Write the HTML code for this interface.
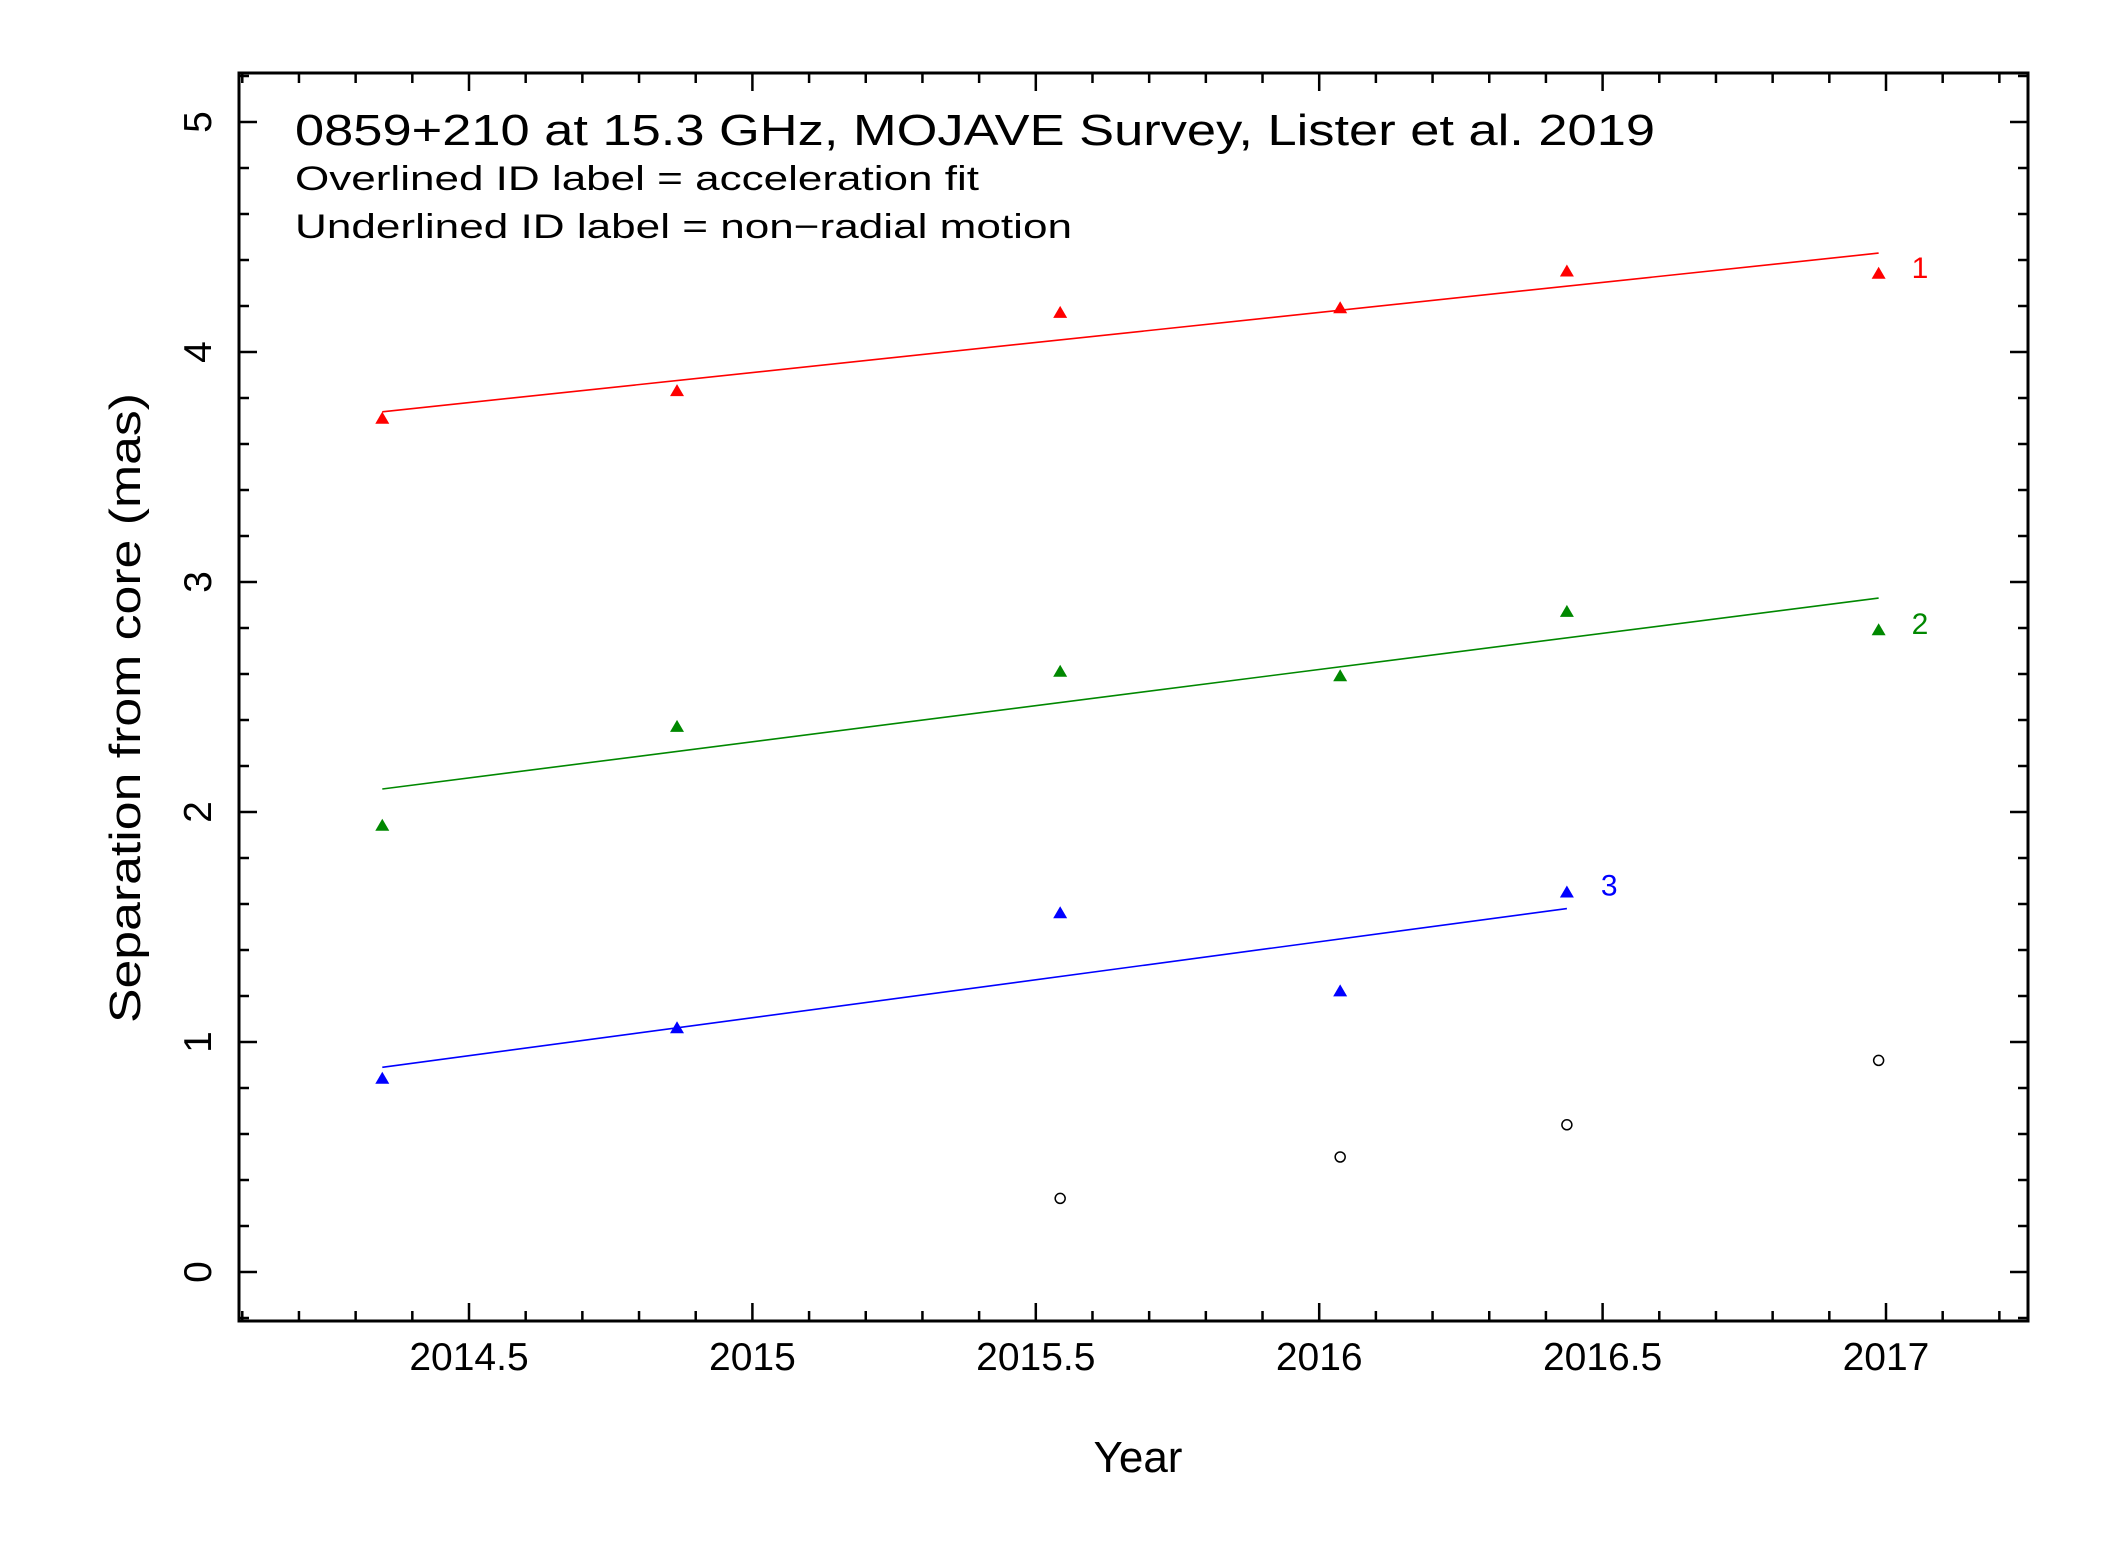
<!DOCTYPE html>
<html><head><meta charset="utf-8"><style>
html,body{margin:0;padding:0;background:#fff}
svg{display:block;font-family:"Liberation Sans",sans-serif}
</style></head><body>
<svg id="chart" width="2127" height="1546" viewBox="0 0 2127 1546" xmlns="http://www.w3.org/2000/svg">
<rect width="2127" height="1546" fill="#fff"/>
<g id="ticks"></g>
<g id="marks"></g>
<rect x="239" y="73" width="1789" height="1248" fill="none" stroke="#000" stroke-width="3"/>
<text x="295" y="145" font-size="44" textLength="1360" lengthAdjust="spacingAndGlyphs">0859+210 at 15.3 GHz, MOJAVE Survey, Lister et al. 2019</text>
<text x="295" y="190" font-size="34" textLength="684" lengthAdjust="spacingAndGlyphs">Overlined ID label = acceleration fit</text>
<text x="295" y="238" font-size="34" textLength="777" lengthAdjust="spacingAndGlyphs">Underlined ID label = non−radial motion</text>
<text transform="translate(140,708) rotate(-90)" text-anchor="middle" font-size="44" textLength="630" lengthAdjust="spacingAndGlyphs">Separation from core (mas)</text>
<text x="1138" y="1472" text-anchor="middle" font-size="44">Year</text>
</svg>
<script>
const xTickVals=[2014.5,2015,2015.5,2016,2016.5,2017];
const xTickLabels=["2014.5","2015","2015.5","2016","2016.5","2017"];
const yTickVals=[0,1,2,3,4,5];
const yTickLabels=["0","1","2","3","4","5"];
const epochs=[2014.347,2014.867,2015.543,2016.037,2016.437,2016.987];
const comp1=[3.71,3.83,4.17,4.19,4.35,4.34];
const comp2=[1.94,2.37,2.61,2.59,2.87,2.79];
const comp3=[0.84,1.06,1.56,1.22,1.65];
const unidentifiedEpochs=[2015.543,2016.037,2016.437,2016.987];
const unidentified=[0.32,0.50,0.64,0.92];
const fit1=[[2014.347,3.74],[2016.987,4.43]];
const fit2=[[2014.347,2.10],[2016.987,2.93]];
const fit3=[[2014.347,0.89],[2016.437,1.58]];

const NS="http://www.w3.org/2000/svg";
const X0=239,X1=2028,Y0=73,Y1=1321;
const xmin=2014.5-230/566.8, xmax=2014.5+(2028-469)/566.8;
const ymin=-(1321-1272)/230, ymax=(1272-73)/230;
function sx(v){return X0+(v-xmin)/(xmax-xmin)*(X1-X0);}
function sy(v){return Y1-(v-ymin)/(ymax-ymin)*(Y1-Y0);}
function mk(tag,attrs,parent){const e=document.createElementNS(NS,tag);for(const k in attrs)e.setAttribute(k,attrs[k]);parent.appendChild(e);return e;}
const ticks=document.getElementById('ticks');
const marks=document.getElementById('marks');
const svg=document.getElementById('chart');

for(let i=Math.ceil(xmin*10);i<=Math.floor(xmax*10);i++){
  const v=i/10, x=sx(v), major=(i%5===0);
  const L=major?18:10;
  const t1=mk('line',{x1:x,y1:Y1,x2:x,y2:Y1-L,stroke:'#000','stroke-width':2.5},ticks);
  
  
  const t2=mk('line',{x1:x,y1:Y0,x2:x,y2:Y0+L,stroke:'#000','stroke-width':2.5},ticks);
  
  
}
xTickVals.forEach((v,i)=>{
  const t=mk('text',{x:sx(v),y:1370,'text-anchor':'middle','font-size':39},svg);
  t.textContent=xTickLabels[i];
  
  
});
for(let i=Math.ceil(ymin*5);i<=Math.floor(ymax*5);i++){
  const v=i/5, y=sy(v), major=(i%5===0);
  const L=major?18:10;
  const t1=mk('line',{x1:X0,y1:y,x2:X0+L,y2:y,stroke:'#000','stroke-width':2.5},ticks);
  
  
  const t2=mk('line',{x1:X1,y1:y,x2:X1-L,y2:y,stroke:'#000','stroke-width':2.5},ticks);
  
  
}
yTickVals.forEach((v,i)=>{
  const t=mk('text',{transform:`translate(211,${sy(v)}) rotate(-90)`,'text-anchor':'middle','font-size':39},svg);
  t.textContent=yTickLabels[i];
  
  
});

function fitLine(f,color,name){
  const l=mk('line',{x1:sx(f[0][0]),y1:sy(f[0][1]),x2:sx(f[1][0]),y2:sy(f[1][1]),stroke:color,'stroke-width':1.6},marks);
  
  
}
function tris(xs,ys,color,name){
  xs.forEach((xv,i)=>{
    if(i>=ys.length)return;
    const x=sx(xv),y=sy(ys[i]);
    const p=mk('polygon',{points:`${x-7},${y+5} ${x+7},${y+5} ${x},${y-7}`,fill:color},marks);
    
    
  });
}
fitLine(fit1,'#ff0000','fit-line-1');
fitLine(fit2,'#008800','fit-line-2');
fitLine(fit3,'#0000ff','fit-line-3');
tris(epochs,comp1,'#ff0000','component-1-point');
tris(epochs,comp2,'#008800','component-2-point');
tris(epochs,comp3,'#0000ff','component-3-point');
unidentifiedEpochs.forEach((xv,i)=>{
  const c=mk('circle',{cx:sx(xv),cy:sy(unidentified[i]),r:5,fill:'none',stroke:'#000','stroke-width':1.5},marks);
  
  
});
function idLabel(txt,fit,dx,dy,color,name){
  const end=fit[1];
  const t=mk('text',{x:sx(end[0])+dx,y:sy(end[1])+dy,'font-size':30,fill:color},svg);
  t.textContent=txt;
  
  
}
idLabel('1',fit1,33,25,'#ff0000','component-1-label');
idLabel('2',fit2,33,36,'#008800','component-2-label');
idLabel('3',fit3,34,-13,'#0000ff','component-3-label');
</script>
</body></html>
